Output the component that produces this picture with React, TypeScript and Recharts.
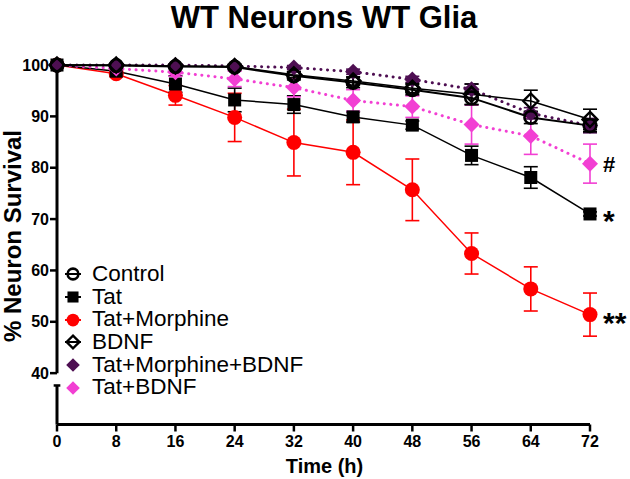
import React from 'react';
import { LineChart, Line, XAxis, YAxis, ErrorBar, ReferenceLine, Legend, LabelList } from 'recharts';

const FONT = '"Liberation Sans", Arial, Helvetica, sans-serif';

// ---- data ----
const times = [0, 8, 16, 24, 32, 40, 48, 56, 64, 72];
const xTicks = [0, 8, 16, 24, 32, 40, 48, 56, 64, 72];
const yTicks = [40, 50, 60, 70, 80, 90, 100];

const controlMean = [100, 99.9, 99.7, 99.6, 97.9, 96.6, 95.2, 93.6, 89.8, 88.2];
const controlErr = [0, 0.3, 0.4, 0.5, 0.8, 1.0, 1.0, 1.3, 1.2, 1.2];
const tatMean = [100, 98.8, 96.3, 93.2, 92.3, 89.9, 88.3, 82.4, 78.1, 71.0];
const tatErr = [0, 0.5, 1.6, 2.3, 1.7, 1.0, 0.8, 1.8, 2.1, 0.4];
const morphMean = [100, 98.3, 94.1, 89.8, 84.9, 83.0, 75.7, 63.3, 56.4, 51.4];
const morphErr = [0, 0.5, 1.9, 4.7, 6.5, 6.3, 6.0, 4.0, 4.3, 4.2];
const bdnfMean = [100, 100, 99.8, 99.7, 98.1, 96.9, 95.5, 94.3, 93.0, 89.4];
const bdnfErr = [0, 0.2, 0.3, 0.4, 0.6, 0.8, 0.9, 2.0, 2.1, 2.0];
const tmbMean = [100, 100, 100, 99.8, 99.5, 98.7, 97.2, 95.3, 90.6, 88.2];
const tmbErr = [0, 0.2, 0.2, 0.3, 0.4, 0.5, 0.6, 1.0, 1.1, 1.4];
const tbMean = [100, 99.3, 98.6, 97.3, 95.6, 93.1, 91.9, 88.4, 86.2, 80.8];
const tbErr = [0, 0.4, 0.8, 1.5, 1.8, 2.1, 2.1, 3.8, 3.6, 3.8];

const seriesNames = ['Control', 'Tat', 'Tat+Morphine', 'BDNF', 'Tat+Morphine+BDNF', 'Tat+BDNF'];
const tatMark = '*';
const morphMark = '**';
const tbMark = '#';

const data = times.map((t, i) => ({
  t,
  control: controlMean[i], controlErr: controlErr[i],
  tat: tatMean[i], tatErr: tatErr[i],
  morph: morphMean[i], morphErr: morphErr[i],
  bdnf: bdnfMean[i], bdnfErr: bdnfErr[i],
  tmb: tmbMean[i], tmbErr: tmbErr[i],
  tb: tbMean[i], tbErr: tbErr[i],
}));

const BLACK = '#000000';
const RED = '#ff0000';
const PURPLE = '#4e0f52';
const PINK = '#f23fd3';

type Kind = 'openCircle' | 'square' | 'circle' | 'openDiamond' | 'diamond';

function Marker({ kind, cx, cy, color, s = 1 }: { kind: Kind; cx: number; cy: number; color: string; s?: number }) {
  switch (kind) {
    case 'openCircle':
      return <circle cx={cx} cy={cy} r={6.3 * s} fill="none" stroke={color} strokeWidth={2.6} />;
    case 'square': {
      const h = 6.5 * s;
      return <rect x={cx - h} y={cy - h} width={2 * h} height={2 * h} fill={color} />;
    }
    case 'circle':
      return <circle cx={cx} cy={cy} r={7.5 * s} fill={color} />;
    case 'openDiamond': {
      const h = 7.5 * s;
      return <polygon points={`${cx},${cy - h} ${cx + h},${cy} ${cx},${cy + h} ${cx - h},${cy}`} fill="none" stroke={color} strokeWidth={2.4} />;
    }
    case 'diamond':
    default: {
      const h = 8 * s;
      return <polygon points={`${cx},${cy - h} ${cx + h},${cy} ${cx},${cy + h} ${cx - h},${cy}`} fill={color} />;
    }
  }
}

const makeDot = (kind: Kind, color: string) => (props: any) => {
  const { cx, cy, index } = props;
  if (cx == null || cy == null) return <g key={`d-${index}`} />;
  return (
    <g key={`d-${index}`}>
      <Marker kind={kind} cx={cx} cy={cy} color={color} />
    </g>
  );
};

const markLabel = (mark: string, size: number, dy: number) => (props: any) => {
  const { x, y, index } = props;
  if (index !== times.length - 1) return null;
  return (
    <text x={x + 13} y={y + dy} fontSize={size} fontWeight={700} fontFamily={FONT} fill="#000">
      {mark}
    </text>
  );
};

const legendItems: { name: string; kind: Kind; color: string; dashed?: boolean }[] = [
  { name: seriesNames[0], kind: 'openCircle', color: BLACK },
  { name: seriesNames[1], kind: 'square', color: BLACK },
  { name: seriesNames[2], kind: 'circle', color: RED },
  { name: seriesNames[3], kind: 'openDiamond', color: BLACK },
  { name: seriesNames[4], kind: 'diamond', color: PURPLE, dashed: true },
  { name: seriesNames[5], kind: 'diamond', color: PINK, dashed: true },
];

const renderLegend = () => (
  <div style={{ fontFamily: FONT, fontSize: 22.5, color: '#000' }}>
    {legendItems.map((it) => (
      <div key={it.name} style={{ display: 'flex', alignItems: 'center', height: 22.7 }}>
        <svg width={22} height={22} style={{ marginRight: 8 }}>
          {!it.dashed && <line x1={3} y1={11} x2={19} y2={11} stroke={it.color} strokeWidth={2} />}
          <Marker kind={it.kind} cx={11} cy={11} color={it.color} s={0.85} />
        </svg>
        <span style={{ lineHeight: '22.7px', whiteSpace: 'nowrap' }}>{it.name}</span>
      </div>
    ))}
  </div>
);

export default function App() {
  return (
    <div style={{ position: 'absolute', left: 0, top: 0, width: 630, height: 479, background: '#fff' }}>
      <div
        style={{
          position: 'absolute', left: 0, top: 0, width: 648, textAlign: 'center',
          fontFamily: FONT, fontWeight: 700, fontSize: 31, lineHeight: '36px', color: '#000',
        }}
      >
        WT Neurons WT Glia
      </div>
      <LineChart
        width={630}
        height={479}
        data={data}
        margin={{ top: 64, right: 40, bottom: 24.5, left: 12 }}
      >
        <XAxis
          type="number"
          dataKey="t"
          domain={[0, 72]}
          ticks={xTicks}
          interval={0}
          height={30}
          axisLine={{ stroke: '#000', strokeWidth: 3 }}
          tickLine={{ stroke: '#000', strokeWidth: 2.5 }}
          tickSize={7}
          tickMargin={4}
          tick={{ fill: '#000', fontSize: 16, fontWeight: 700, fontFamily: FONT }}
          label={{
            content: (p: any) => (
              <text
                x={p.viewBox.x + p.viewBox.width / 2 + 1}
                y={473}
                textAnchor="middle"
                fontSize={20}
                fontWeight={700}
                fontFamily={FONT}
                fill="#000"
              >
                Time (h)
              </text>
            ),
          }}
        />
        <YAxis
          type="number"
          domain={[30, 100]}
          ticks={yTicks}
          interval={0}
          width={45}
          axisLine={false}
          tickLine={{ stroke: '#000', strokeWidth: 2.5 }}
          tickSize={7}
          tickMargin={1}
          tick={{ fill: '#000', fontSize: 16, fontWeight: 700, fontFamily: FONT }}
          label={{
            content: (p: any) => (
              <text
                x={21}
                y={236}
                transform="rotate(-90 21 236)"
                textAnchor="middle"
                fontSize={24}
                fontWeight={700}
                fontFamily={FONT}
                fill="#000"
              >
                % Neuron Survival
              </text>
            ),
          }}
        />
        <ReferenceLine segment={[{ x: 0, y: 40 }, { x: 0, y: 100 }]} stroke="#000" strokeWidth={3} ifOverflow="visible" />
        <ReferenceLine segment={[{ x: 0, y: 30 }, { x: 0, y: 37.6 }]} stroke="#000" strokeWidth={3} ifOverflow="visible" />
        <ReferenceLine segment={[{ x: -0.45, y: 37.6 }, { x: 0.45, y: 37.6 }]} stroke="#000" strokeWidth={2.5} ifOverflow="visible" />

        <Line dataKey="morph" stroke={RED} strokeWidth={1.5} dot={makeDot('circle', RED)} activeDot={false} isAnimationActive={false}>
          <ErrorBar dataKey="morphErr" direction="y" width={7} stroke={RED} strokeWidth={1.6} />
          <LabelList dataKey="morph" content={markLabel(morphMark, 30, 18)} />
        </Line>
        <Line dataKey="tat" stroke={BLACK} strokeWidth={1.5} dot={makeDot('square', BLACK)} activeDot={false} isAnimationActive={false}>
          <ErrorBar dataKey="tatErr" direction="y" width={7} stroke={BLACK} strokeWidth={1.6} />
          <LabelList dataKey="tat" content={markLabel(tatMark, 30, 17)} />
        </Line>
        <Line dataKey="tb" stroke={PINK} strokeWidth={3} strokeDasharray="0.1 6.5" strokeLinecap="round" dot={makeDot('diamond', PINK)} activeDot={false} isAnimationActive={false}>
          <ErrorBar dataKey="tbErr" direction="y" width={7} stroke={PINK} strokeWidth={1.6} />
          <LabelList dataKey="tb" content={markLabel(tbMark, 22, 8)} />
        </Line>
        <Line dataKey="tmb" stroke={PURPLE} strokeWidth={3} strokeDasharray="0.1 6.5" strokeLinecap="round" dot={makeDot('diamond', PURPLE)} activeDot={false} isAnimationActive={false}>
          <ErrorBar dataKey="tmbErr" direction="y" width={7} stroke={PURPLE} strokeWidth={1.6} />
        </Line>
        <Line dataKey="bdnf" stroke={BLACK} strokeWidth={1.5} dot={makeDot('openDiamond', BLACK)} activeDot={false} isAnimationActive={false}>
          <ErrorBar dataKey="bdnfErr" direction="y" width={7} stroke={BLACK} strokeWidth={1.6} />
        </Line>
        <Line dataKey="control" stroke={BLACK} strokeWidth={2} dot={makeDot('openCircle', BLACK)} activeDot={false} isAnimationActive={false}>
          <ErrorBar dataKey="controlErr" direction="y" width={7} stroke={BLACK} strokeWidth={1.6} />
        </Line>

        <Legend
          layout="vertical"
          align="center"
          verticalAlign="middle"
          content={renderLegend}
          wrapperStyle={{ position: 'absolute', left: 62, top: 263, width: 280, height: 140 }}
        />
      </LineChart>
    </div>
  );
}
